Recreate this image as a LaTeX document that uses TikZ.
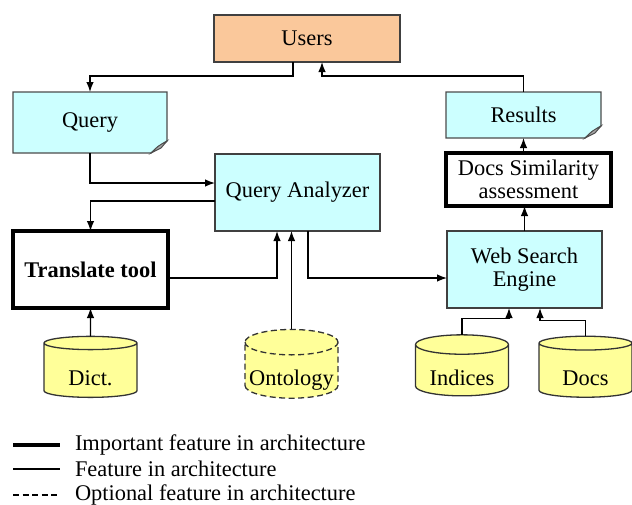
\documentclass[tikz,border=0pt]{standalone}
\usepackage{fontspec}
\setmainfont{Liberation Serif}
\usepackage{tikz}
\usetikzlibrary{calc}
\usetikzlibrary{arrows.meta}
\usetikzlibrary{shapes.geometric}
\tikzset{>={Latex[length=10pt,width=7.5pt]}}
\definecolor{userfill}{RGB}{250,200,155}
\definecolor{boxfill}{RGB}{204,255,255}
\definecolor{dbfill}{RGB}{255,255,153}
\tikzset{
	every node/.style={font=\fontsize{22.4pt}{23pt}\selectfont, inner sep=0pt, outer sep=0pt},
	proc/.style={rectangle, draw=black!75, line width=1.3pt, fill=boxfill, align=center},
	bigproc/.style={rectangle, draw=black, line width=3.4pt, fill=white, align=center},
	note/.style={rectangle, align=center},
	notebody/.style={draw=black!70, line width=1.3pt, fill=boxfill},
	fold/.style={draw=black!70, line width=1pt, fill=black!35},
	db/.style={cylinder, shape border rotate=90, aspect=0.3, draw=black!80, line width=1.3pt, fill=dbfill, minimum height=61pt, minimum width=93pt, text height=30pt, text depth=0pt},
	optional/.style={dash pattern=on 6pt off 3.5pt},
	flow/.style={->, line width=1.3pt},
}
\pgfdeclarelayer{bg}
\pgfsetlayers{bg,main}

\begin{document}
\begin{tikzpicture}[x=1pt,y=-1pt]
				\useasboundingbox (0,0) rectangle (632,504);
				
				\node[proc, fill=userfill, minimum width=186pt, minimum height=47pt] (users) at (307,38.5) {Users};
				\node[note, minimum width=154pt, minimum height=61pt] (query) at (90,122.5) {Query};
				\node[note, minimum width=155pt, minimum height=46pt] (results) at (523.5,115) {Results};
				\node[proc, minimum width=165pt, minimum height=77pt] (qa) at (297.5,192.5) {Query Analyzer};
				\node[bigproc, minimum width=165pt, minimum height=53pt] (docsim) at (528.5,179.5) {Docs Similarity\\assessment};
				\node[bigproc, minimum width=155pt, minimum height=77pt] (trans) at (90.5,269.5) {\textbf{Translate tool}};
				\node[proc, minimum width=155pt, minimum height=77pt] (wse) at (524.5,269.5) {Web Search\\Engine};
				
				\node[db] (dict) at (90.5,370.5) {Dict.};
				\node[db, optional] (onto) at (291.5,370.5) {Ontology};
				\node[db] (indices) at (462,370.5) {Indices};
				\node[db] (docs) at (585.5,370.5) {Docs};
				
				% notes with folded corner
				\begin{pgfonlayer}{bg}
					\foreach \n in {query,results}{
						\draw[notebody] (\n.north west) -- (\n.north east) -- ([yshift=12pt]\n.south east) -- ([xshift=-16pt]\n.south east) -- (\n.south west) -- cycle;
						\draw[fold] ([xshift=-16pt]\n.south east) .. controls ([xshift=-9pt,yshift=7pt]\n.south east) .. ([yshift=12pt]\n.south east) -- ([xshift=-6pt,yshift=5pt]\n.south east) -- cycle;
					}
				\end{pgfonlayer}
				
				\draw[flow] ([xshift=-14pt]users.south) -- ++(0,14) -| (query.north);
				\draw[flow] (results.north) -- ++(0,-16) -| ([xshift=15pt]users.south);
				\draw[flow] (query.south) |- ([yshift=9.5pt]qa.west);
				\draw[flow] ([yshift=-8.5pt]qa.west) -| (trans.north);
				\draw[flow] ([yshift=-8.5pt]trans.east) -| ([xshift=-20.5pt]qa.south);
				\draw[flow] (onto.north) -- (onto.north |- qa.south);
				\draw[flow] ([xshift=10.5pt]qa.south) |- ([yshift=-8.5pt]wse.west);
				\draw[flow] (wse.north) -- (wse.north |- docsim.south);
				\draw[flow] (results.south |- docsim.north) -- (results.south);
				\draw[flow] (dict.north) -- (trans.south);
				\draw[flow] (indices.north) -- ++(0,-16) -| ([xshift=-15.5pt]wse.south);
				\draw[flow] (docs.north) -- ++(0,-16) -| ([xshift=15.5pt]wse.south);
				
				% legend
				\coordinate (L1a) at (13,445);
				\coordinate (L1b) at (60,445);
				\coordinate (L2a) at (13,469);
				\coordinate (L2b) at (60,469);
				\coordinate (L3a) at (13,495);
				\coordinate (L3b) at (60,495);
				\draw[line width=3.4pt] (L1a) -- (L1b);
				\draw[line width=1.3pt] (L2a) -- (L2b);
				\draw[line width=1.3pt, optional] (L3a) -- (L3b);
				\node[anchor=west] (leg1) at (75,445) {Important feature in architecture};
				\node[anchor=west] (leg2) at (75,469) {Feature in architecture};
				\node[anchor=west] (leg3) at (75,495) {Optional feature in architecture};
			\end{tikzpicture}
\end{document}
